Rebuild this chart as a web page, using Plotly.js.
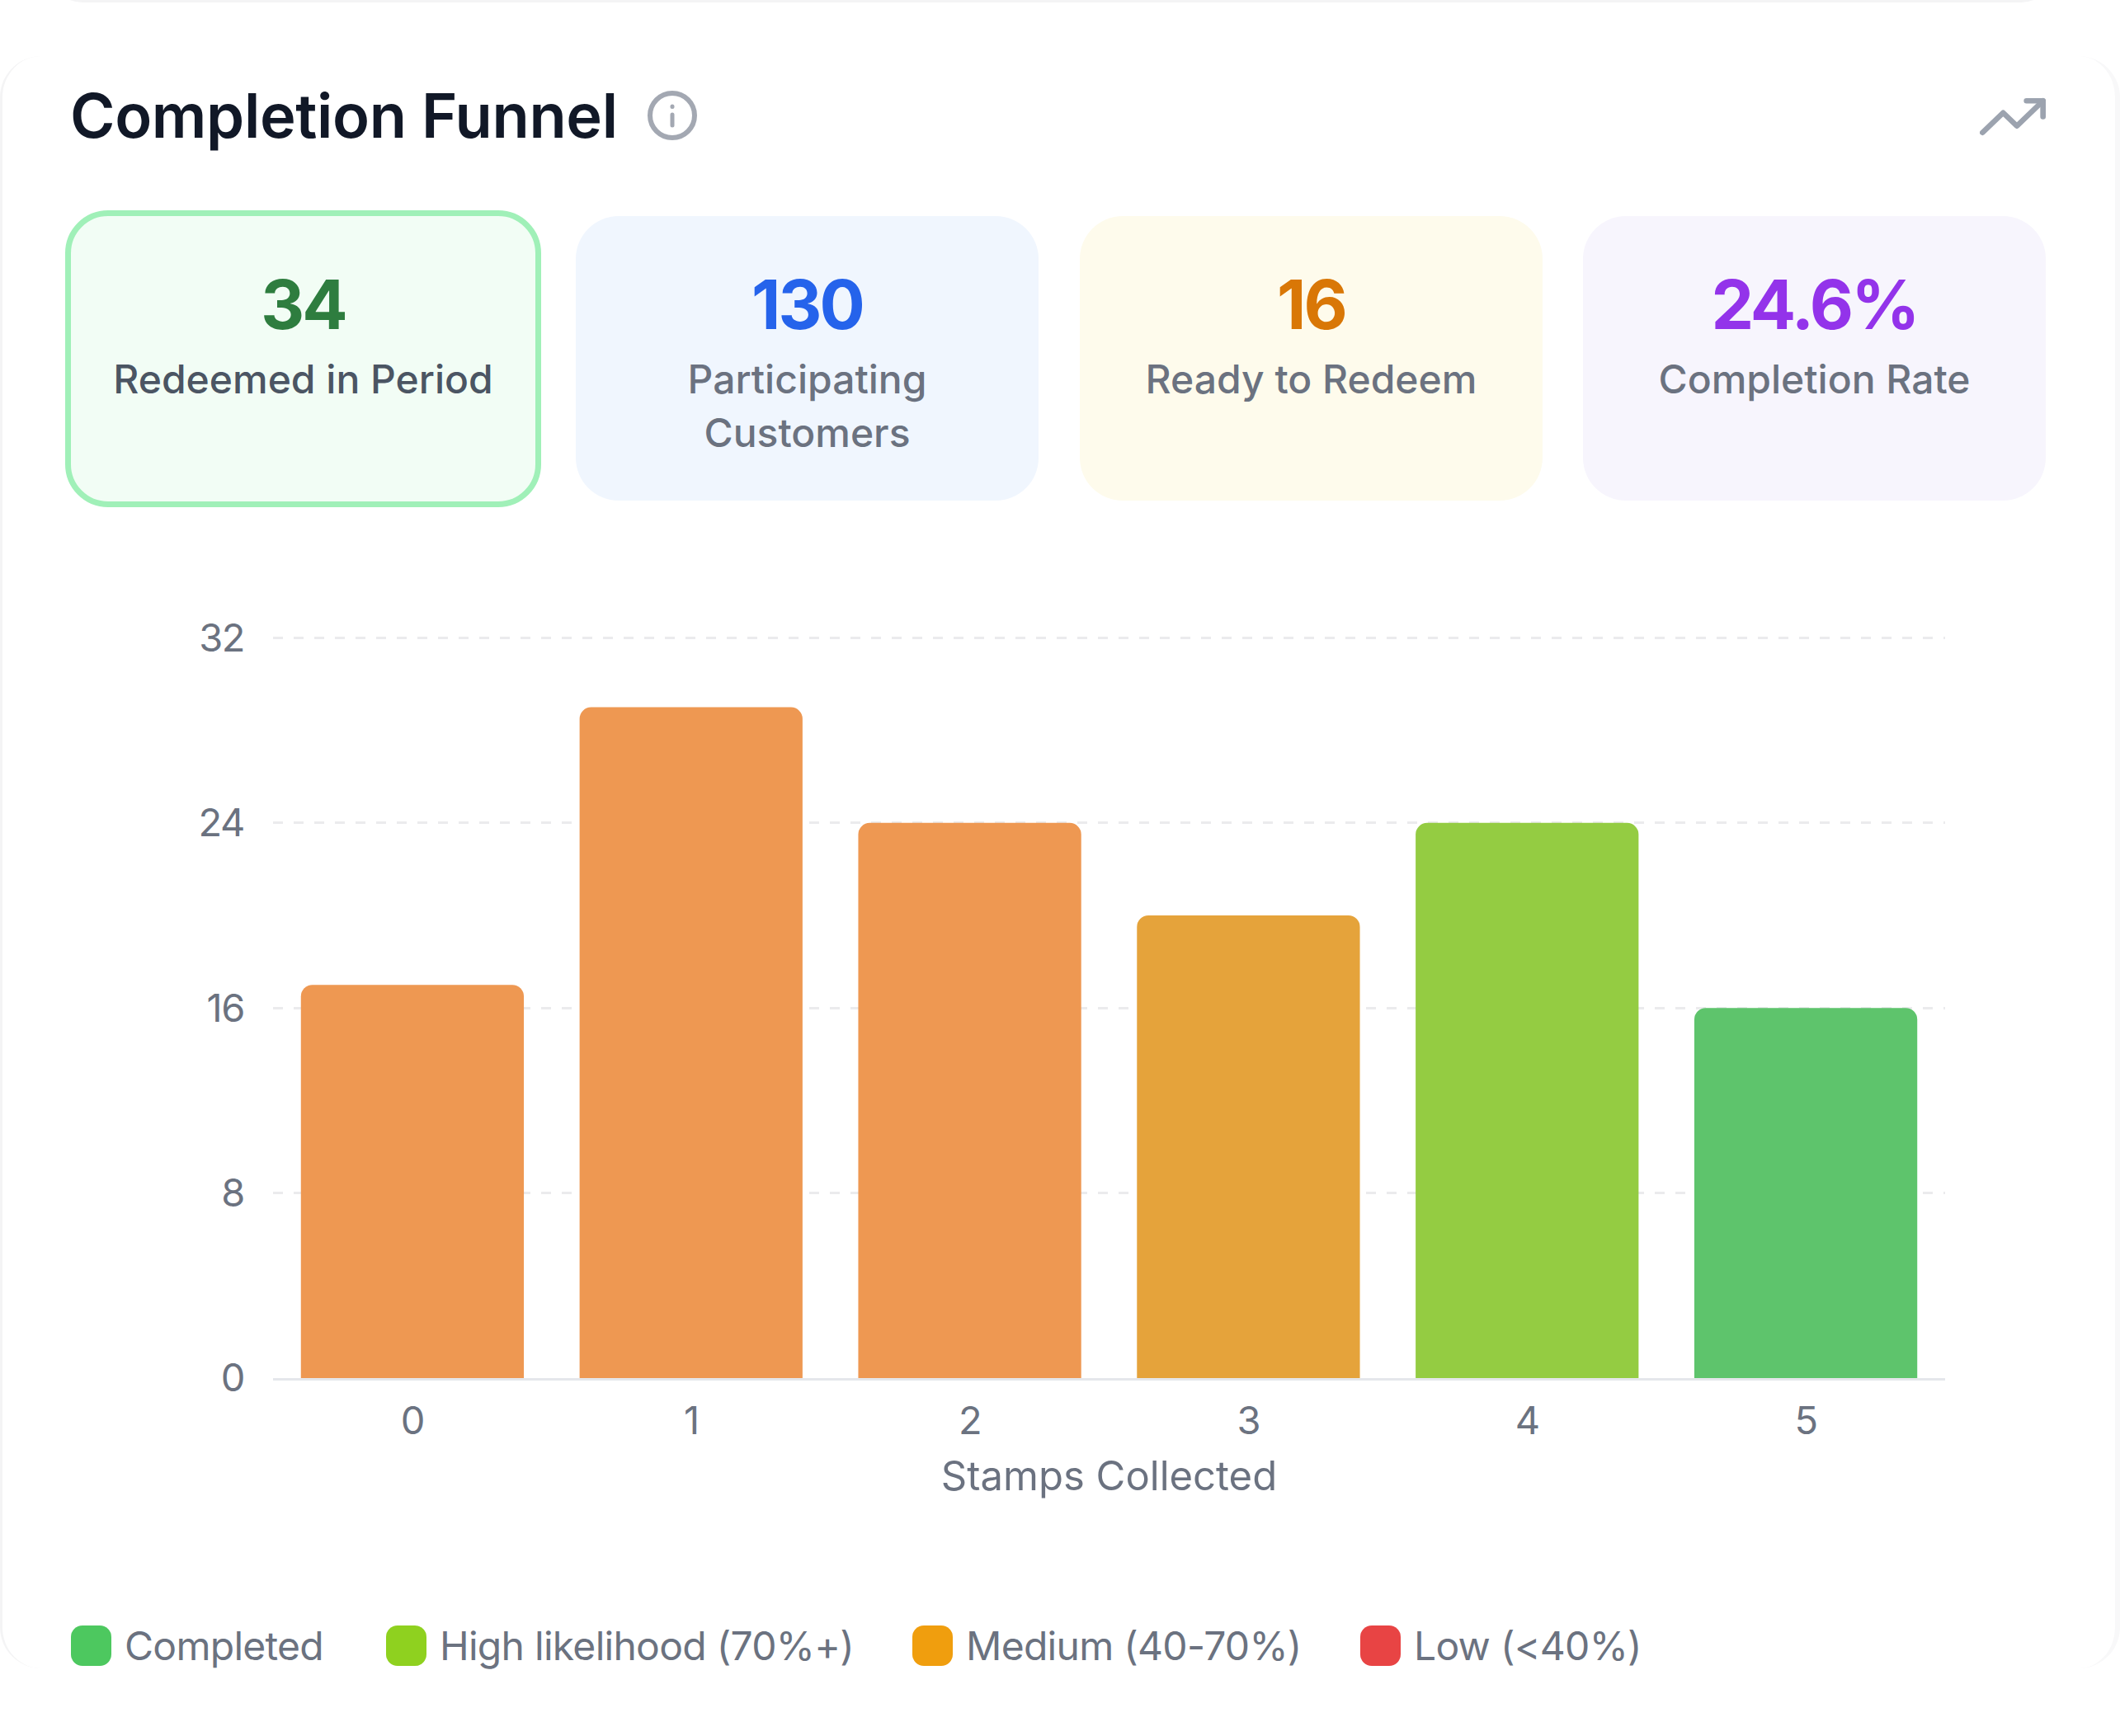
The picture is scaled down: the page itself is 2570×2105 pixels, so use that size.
<!DOCTYPE html>
<html>
<head>
<meta charset="utf-8">
<title>Completion Funnel</title>
<script src="https://cdn.plot.ly/plotly-3.0.1.min.js"></script>
<style>
  html,body{margin:0;padding:0;background:#fff;}
  body{width:2570px;height:2105px;position:relative;overflow:hidden;font-family:Inter,"Noto Sans",sans-serif;}
  .prev{position:absolute;left:60px;top:-80px;width:2430px;height:80px;border-bottom:3px solid #f4f4f5;border-radius:0 0 40px 40px;}
  .panel{position:absolute;left:0;top:68px;width:2570px;height:1955px;box-sizing:border-box;border-left:3px solid #f4f4f5;border-right:6px solid #f8f8f9;border-radius:50px;}
  #chart{position:absolute;left:0;top:0;width:2570px;height:2105px;}
  h2{position:absolute;left:85px;top:96px;margin:0;font-size:74px;line-height:88px;font-weight:600;letter-spacing:-0.005em;color:#111827;white-space:nowrap;}
  .info{position:absolute;left:784px;top:109px;}
  .trend{position:absolute;left:2400px;top:103px;}
  .card{position:absolute;top:262px;width:561px;height:345px;border-radius:52px;text-align:center;box-sizing:border-box;padding:0 30px;}
  .card b{display:block;margin-top:62px;font-size:82px;line-height:92px;font-weight:700;letter-spacing:-0.035em;}
  .card span{display:block;margin-top:11px;font-size:48px;line-height:65px;font-weight:500;letter-spacing:0;color:#6b7280;}
  .card.active{left:79px;top:255px;width:577px;height:360px;border:7px solid #a0f0b8;padding:0 10px;}
  .card.active span{color:#4b5563;}
  .legend-item{position:absolute;top:1971px;height:50px;line-height:50px;font-size:48px;letter-spacing:-0.015em;color:#6b7280;white-space:nowrap;}
  .legend-item i{position:absolute;left:0;top:0;width:49px;height:49px;border-radius:14px;}
  .legend-item span{position:absolute;left:65px;top:0;}
  .xtick text,.ytick text{letter-spacing:-0.03em;}
</style>
</head>
<body>
<div class="prev"></div>
<div class="panel"></div>
<div id="chart"></div>
<h2>Completion Funnel</h2>
<svg class="info" width="62" height="62" viewBox="0 0 62 62" fill="none" stroke="#a3a8b2" stroke-width="6" stroke-linecap="round">
  <circle cx="31" cy="31" r="27"/><path d="M31 30V43" stroke-width="5"/><path d="M31 20V20.5" stroke-width="5"/>
</svg>
<svg class="trend" width="80" height="77" viewBox="0 0 24 24" preserveAspectRatio="none" fill="none" stroke="#9ca3af" stroke-width="2" stroke-linecap="round" stroke-linejoin="round">
  <polyline points="23 6 13.5 15.5 8.5 10.5 1 18"/><polyline points="17 6 23 6 23 12"/>
</svg>
<div id="cards"></div>
<div id="legend"></div>

<script>
// Completion funnel - stamps collected per customer
const stamps = ['0','1','2','3','4','5'];
const customers = [17,29,24,20,24,16];
const barColors = ['#ee9852','#ee9852','#ee9852','#e5a33b','#94cc42','#5ec46c'];
const yTicks = [0,8,16,24,32];

const cardValues = ['34','130','16','24.6%'];
const cardLabels = ['Redeemed in Period','Participating Customers','Ready to Redeem','Completion Rate'];
const cardBgs = ['#f2fdf5','#f0f6fe','#fefbec','#f7f5fd'];
const cardColors = ['#2e7d3f','#2563eb','#d97706','#9333ea'];
const cardLefts = [79,698,1309,1919];

const legendLabels = ['Completed','High likelihood (70%+)','Medium (40-70%)','Low (<40%)'];
const legendColors = ['#4dc85f','#8fd11f','#f09e0e','#e84444'];
const legendLefts = [86,468,1106,1649];

function renderCards(){
  const box = document.getElementById('cards');
  cardValues.forEach((v,i)=>{
    const el = document.createElement('div');
    el.className = 'card' + (i===0?' active':'');
    el.style.left = cardLefts[i]+'px';
    el.style.background = cardBgs[i];
    const num = document.createElement('b');
    num.textContent = v;
    num.style.color = cardColors[i];
    const label = document.createElement('span');
    label.textContent = cardLabels[i];
    el.appendChild(num);
    el.appendChild(label);
    box.appendChild(el);
  });
}

function renderLegend(){
  const box = document.getElementById('legend');
  legendLabels.forEach((t,i)=>{
    const el = document.createElement('div');
    el.className = 'legend-item';
    el.style.left = legendLefts[i]+'px';
    const swatch = document.createElement('i');
    swatch.style.background = legendColors[i];
    const label = document.createElement('span');
    label.textContent = t;
    el.appendChild(swatch);
    el.appendChild(label);
    box.appendChild(el);
  });
}

function drawChart(){
  const font = {family:'Inter, sans-serif', size:47, color:'#6b7280'};
  const titleFont = {family:'Inter, sans-serif', size:49, color:'#6b7280'};
  Plotly.newPlot('chart',[{
    type:'bar',
    x:stamps,
    y:customers,
    marker:{color:barColors, line:{width:0}},
    hoverinfo:'x+y'
  }],{
    width:2570,
    height:2105,
    margin:{l:331,r:212,t:772.2,b:433.8,pad:0},
    paper_bgcolor:'rgba(0,0,0,0)',
    plot_bgcolor:'rgba(0,0,0,0)',
    bargap:0.2,
    barcornerradius:14,
    showlegend:false,
    font:font,
    xaxis:{
      type:'category',
      range:[-0.5,5.5],
      showgrid:false,
      zeroline:false,
      showline:true,
      linecolor:'#e5e7eb',
      linewidth:3,
      ticks:'',
      ticklabelstandoff:9,
      tickfont:font,
      title:{text:'Stamps Collected',font:titleFont,standoff:24},
      automargin:false
    },
    yaxis:{
      range:[0,32.05],
      tickvals:yTicks,
      ticktext:yTicks.map(String),
      showgrid:true,
      gridcolor:'#ebebed',
      gridwidth:3,
      griddash:'12px,13px',
      zeroline:false,
      showline:false,
      ticks:'',
      ticklabelstandoff:34,
      tickfont:font,
      automargin:false
    }
  },{displayModeBar:false,responsive:false});
}

renderCards();
renderLegend();
drawChart();
</script>
</body>
</html>
